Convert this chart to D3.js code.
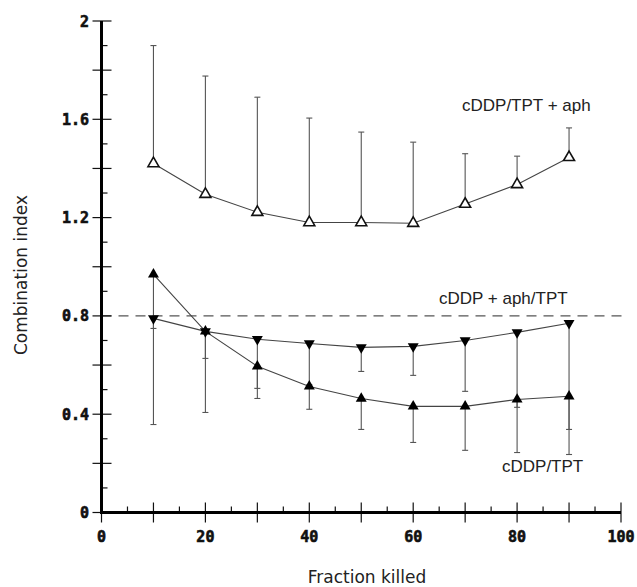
<!DOCTYPE html>
<html><head><meta charset="utf-8">
<script src="https://cdn.jsdelivr.net/npm/d3@7"></script>
<style>body{margin:0;background:#fff}svg{display:block}</style>
</head><body>
<script>
// ---- data ----
const fraction = [10, 20, 30, 40, 50, 60, 70, 80, 90];
const aphCI    = [1.42, 1.295, 1.222, 1.18, 1.18, 1.177, 1.255, 1.335, 1.445];   // cDDP/TPT + aph
const aphUpper = [1.90, 1.776, 1.69, 1.605, 1.548, 1.507, 1.46, 1.45, 1.565];
const seqCI    = [0.79, 0.737, 0.705, 0.688, 0.672, 0.676, 0.70, 0.733, 0.77];   // cDDP + aph/TPT
const seqLower = [0.749, 0.627, 0.505, 0.52, 0.574, 0.558, 0.493, 0.428, 0.338];
const simCI    = [0.969, 0.737, 0.595, 0.513, 0.464, 0.432, 0.432, 0.46, 0.473]; // cDDP/TPT
const simLower = [0.358, 0.407, 0.464, 0.42, 0.338, 0.285, 0.253, 0.244, 0.236];
const yLabelTicks = [0, 0.4, 0.8, 1.2, 1.6, 2];
const yMajorTicks = [0, 0.2, 0.4, 0.6, 0.8, 1.0, 1.2, 1.4, 1.6, 1.8, 2.0];
const yMinorTicks = [0.1, 0.3, 0.5, 0.7, 0.9, 1.1, 1.3, 1.5, 1.7, 1.9];
const xLabelTicks = [0, 20, 40, 60, 80, 100];
const xMajorTicks = [0, 10, 20, 30, 40, 50, 60, 70, 80, 90, 100];
const xMinorTicks = [5, 15, 25, 35, 45, 55, 65, 75, 85, 95];
const refLine = 0.8;
const seriesLabels = ["cDDP/TPT + aph", "cDDP + aph/TPT", "cDDP/TPT"];

// ---- drawing ----
const W = 637, H = 587;
const svg = d3.select("body").append("svg").attr("width", W).attr("height", H);
const x = d3.scaleLinear().domain([0, 100]).range([101.5, 621]);
const y = d3.scaleLinear().domain([0, 2]).range([512.5, 21]);
const x0 = x(0), y0 = y(0);

// reference dashed line
svg.append("line")
  .attr("x1", x(0)).attr("x2", x(100) + 2)
  .attr("y1", y(refLine)).attr("y2", y(refLine))
  .attr("stroke", "#555").attr("stroke-width", 1.2)
  .attr("stroke-dasharray", "10,7");

// error bars
function errBars(vals, ends, cls) {
  const g = svg.append("g").attr("class", cls)
    .attr("stroke", "#555").attr("stroke-width", 1.1);
  fraction.forEach((f, i) => {
    g.append("line").attr("x1", x(f)).attr("x2", x(f))
      .attr("y1", y(vals[i])).attr("y2", y(ends[i]));
    g.append("line").attr("x1", x(f) - 3).attr("x2", x(f) + 3)
      .attr("y1", y(ends[i])).attr("y2", y(ends[i]));
  });
}
errBars(aphCI, aphUpper, "e1");
errBars(seqCI, seqLower, "e2");
errBars(simCI, simLower, "e3");

// lines
const line = d3.line().x((d, i) => x(fraction[i])).y(d => y(d));
[aphCI, seqCI, simCI].forEach(s => {
  svg.append("path").attr("d", line(s))
    .attr("fill", "none").attr("stroke", "#444").attr("stroke-width", 1.1);
});

// markers
const tri = d3.symbol().type(d3.symbolTriangle).size(52);
svg.append("g").selectAll("path").data(aphCI).join("path")
  .attr("d", tri)
  .attr("transform", (d, i) => `translate(${x(fraction[i])},${y(d)})`)
  .attr("fill", "#fff").attr("stroke", "#111").attr("stroke-width", 1.6);
svg.append("g").selectAll("path").data(seqCI).join("path")
  .attr("d", tri)
  .attr("transform", (d, i) => `translate(${x(fraction[i])},${y(d)}) rotate(180)`)
  .attr("fill", "#000");
svg.append("g").selectAll("path").data(simCI).join("path")
  .attr("d", tri)
  .attr("transform", (d, i) => `translate(${x(fraction[i])},${y(d)})`)
  .attr("fill", "#000");

// axes ticks
const ax = svg.append("g").attr("stroke", "#111");
ax.selectAll(".ymaj").data(yMajorTicks).join("line")
  .attr("x1", x0 - 9).attr("x2", x0 + 10).attr("y1", d => y(d)).attr("y2", d => y(d))
  .attr("stroke-width", 1.2);
ax.selectAll(".ymin").data(yMinorTicks).join("line")
  .attr("x1", x0).attr("x2", x0 + 6).attr("y1", d => y(d)).attr("y2", d => y(d))
  .attr("stroke-width", 1.2);
ax.selectAll(".xmaj").data(xMajorTicks).join("line")
  .attr("x1", d => x(d)).attr("x2", d => x(d)).attr("y1", y0 - 10).attr("y2", y0 + 10)
  .attr("stroke-width", 1.2);
ax.selectAll(".xmin").data(xMinorTicks).join("line")
  .attr("x1", d => x(d)).attr("x2", d => x(d)).attr("y1", y0 - 6).attr("y2", y0)
  .attr("stroke-width", 1.2);
// axis lines
svg.append("path")
  .attr("d", `M${x0},${y(2)}V${y0}H${x(100)}`)
  .attr("fill", "none").attr("stroke", "#000").attr("stroke-width", 3);

// tick labels
const tickFont = "'DejaVu Sans Mono', monospace";
svg.append("g").selectAll("text").data(yLabelTicks).join("text")
  .attr("x", 89).attr("y", d => y(d) + 5.5)
  .attr("text-anchor", "end")
  .attr("font-family", tickFont).attr("font-weight", "bold").attr("font-size", 15)
  .attr("fill", "#111").attr("stroke", "#111").attr("stroke-width", 0.6)
  .text(d => d3.format("~g")(d));
svg.append("g").selectAll("text").data(xLabelTicks).join("text")
  .attr("x", d => x(d)).attr("y", 542)
  .attr("text-anchor", "middle")
  .attr("font-family", tickFont).attr("font-weight", "bold").attr("font-size", 15)
  .attr("fill", "#111").attr("stroke", "#111").attr("stroke-width", 0.6)
  .text(d => d);

// axis titles
svg.append("text")
  .attr("transform", "translate(27,275) rotate(-90)")
  .attr("text-anchor", "middle")
  .attr("font-family", "'DejaVu Sans', sans-serif").attr("font-size", 17)
  .attr("fill", "#222")
  .text("Combination index");
svg.append("text")
  .attr("x", 367).attr("y", 583)
  .attr("text-anchor", "middle")
  .attr("font-family", "'DejaVu Sans', sans-serif").attr("font-size", 17)
  .attr("fill", "#222")
  .text("Fraction killed");

// series labels
const labelPos = [[462, 111], [439, 304], [502, 472]];
svg.append("g").selectAll("text").data(seriesLabels).join("text")
  .attr("x", (d, i) => labelPos[i][0]).attr("y", (d, i) => labelPos[i][1])
  .attr("font-family", "'Liberation Sans', Arial, sans-serif").attr("font-size", 17)
  .attr("fill", "#222")
  .text(d => d);
</script>
</body></html>
